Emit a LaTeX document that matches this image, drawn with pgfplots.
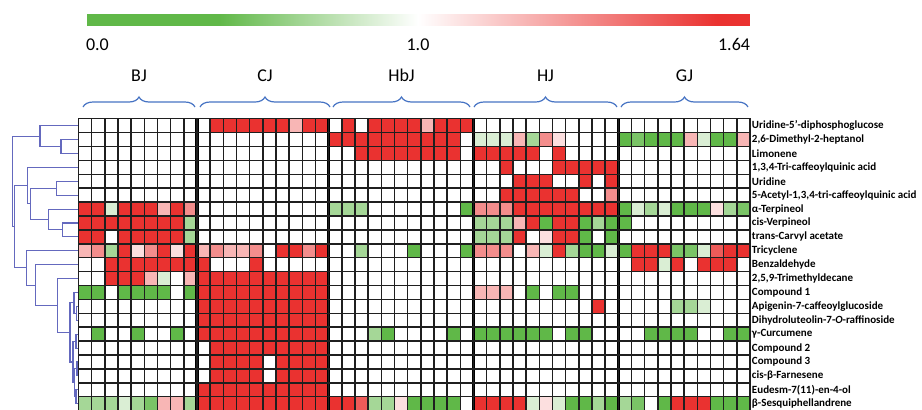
\documentclass[border=0pt]{standalone}
\usepackage{fontspec}
\setmainfont{Carlito}
\usepackage{pgfplots}
\pgfplotsset{compat=1.18}
\usetikzlibrary{decorations.pathreplacing,calc}
\definecolor{dendro}{RGB}{100,105,190}
\definecolor{bracecol}{RGB}{70,115,195}
\tikzset{dl/.style={dendro, line width=0.55pt}}
\begin{document}
\begin{tikzpicture}
\useasboundingbox (0pt,0pt) rectangle (461pt,-204.5pt);

% ---------- dendrogram ----------
\begin{axis}[at={(0pt,-59.35pt)}, anchor=north west, scale only axis,
  width=39.25pt, height=145.95pt, xmin=0, xmax=78.5, ymin=-0.5, ymax=20.5,
  y dir=reverse, hide axis, clip=false]
\addplot[dl] coordinates {(78.5,1) (61,1) (61,2) (78.5,2)};
\addplot[dl] coordinates {(78.5,0) (40,0) (40,1.5) (61,1.5)};
\addplot[dl] coordinates {(78.5,7) (62.7,7) (62.7,8) (78.5,8)};
\addplot[dl] coordinates {(78.5,6) (48.3,6) (48.3,7.5) (62.7,7.5)};
\addplot[dl] coordinates {(78.5,4) (56.7,4) (56.7,5) (78.5,5)};
\addplot[dl] coordinates {(56.7,4.5) (30.7,4.5) (30.7,6.75) (48.3,6.75)};
\addplot[dl] coordinates {(78.5,3) (27.7,3) (27.7,5.625) (30.7,5.625)};
\addplot[dl] coordinates {(78.5,13) (76.5,13) (76.5,14) (78.5,14)};
\addplot[dl] coordinates {(78.5,12) (74,12) (74,13.5) (76.5,13.5)};
\addplot[dl] coordinates {(78.5,15) (76,15) (76,16) (78.5,16)};
\addplot[dl] coordinates {(78.5,17) (77,17) (77,18) (78.5,18)};
\addplot[dl] coordinates {(78.5,19) (76,19) (76,20) (78.5,20)};
\addplot[dl] coordinates {(77,17.5) (74.5,17.5) (74.5,19.5) (76,19.5)};
\addplot[dl] coordinates {(76,15.5) (73,15.5) (73,18.5) (74.5,18.5)};
\addplot[dl] coordinates {(74,12.75) (70,12.75) (70,17) (73,17)};
\addplot[dl] coordinates {(78.5,11) (57.3,11) (57.3,14.875) (70,14.875)};
\addplot[dl] coordinates {(78.5,10) (35.7,10) (35.7,12.94) (57.3,12.94)};
\addplot[dl] coordinates {(78.5,9) (26.7,9) (26.7,11.47) (35.7,11.47)};
\addplot[dl] coordinates {(27.7,4.3125) (14.3,4.3125) (14.3,10.235) (26.7,10.235)};
\addplot[dl] coordinates {(40,0.75) (12.3,0.75) (12.3,7.27) (14.3,7.27)};
\end{axis}

% ---------- heatmap ----------
\begin{axis}[at={(39.25pt,-59.35pt)}, anchor=north west, scale only axis,
  width=335.75pt, height=145.95pt,
  xmin=-0.5, xmax=50.5, ymin=-0.5, ymax=20.5, y dir=reverse, enlargelimits=false,
  colormap={gwr}{rgb255(0pt)=(96,184,72) rgb255(20pt)=(96,184,72) rgb255(50pt)=(255,255,255) rgb255(95pt)=(234,50,48) rgb255(100pt)=(234,50,48)},
  point meta min=0, point meta max=100,
  xtick={-0.5,0.5,...,50.5}, xticklabels={}, xmajorgrids,
  ytick={0,...,20}, minor ytick={-0.5,0.5,...,20.5}, yminorgrids,
  major grid style={black!88, line width=0.75pt},
  minor grid style={black!88, line width=0.75pt},
  major tick length=0pt, minor tick length=0pt,
  yticklabel pos=right,
  yticklabel style={anchor=west, inner sep=0.8pt, font=\bfseries\fontsize{5.5}{6}\selectfont},
  yticklabels={{Uridine-5'-diphosphoglucose},{2,6-Dimethyl-2-heptanol},{Limonene},{1,3,4-Tri-caffeoylquinic acid},{Uridine},{5-Acetyl-1,3,4-tri-caffeoylquinic acid},{α-Terpineol},{cis-Verpineol},{trans-Carvyl acetate},{Tricyclene},{Benzaldehyde},{2,5,9-Trimethyldecane},{Compound 1},{Apigenin-7-caffeoylglucoside},{Dihydroluteolin-7-\textit{O}-raffinoside},{γ-Curcumene},{Compound 2},{Compound 3},{cis-β-Farnesene},{Eudesm-7(11)-en-4-ol},{β-Sesquiphellandrene}},
  axis line style={black!88, line width=0.75pt}, axis on top,
  colorbar horizontal,
  colorbar style={at={($(parent axis.north west)+(3.75pt,55.1pt)$)}, anchor=south west,
    scale only axis, width=332pt, height=5.5pt, axis line style={draw=none},
    xtick={0,50,100}, xticklabels={\makebox[0pt][l]{0.0},\makebox[0pt]{1.0},\makebox[0pt][r]{1.64}},
    major tick length=0pt, xticklabel style={font=\fontsize{9}{10}\selectfont, yshift=-3pt}},
]
\addplot[matrix plot*, mesh/cols=51, point meta=explicit]
 table[header=false, row sep=\\, x expr={\coordindex-51*floor((\coordindex+0.5)/51)}, y expr={floor((\coordindex+0.5)/51)}, meta index=0] {
50\\50\\50\\50\\50\\50\\50\\50\\50\\
50\\100\\100\\100\\100\\100\\100\\66\\100\\100\\
50\\100\\50\\100\\100\\100\\100\\66\\100\\100\\100\\
50\\50\\50\\50\\50\\50\\50\\50\\50\\50\\50\\
50\\50\\50\\50\\50\\50\\50\\50\\50\\50\\
50\\50\\50\\50\\50\\50\\50\\50\\50\\
50\\50\\50\\50\\50\\50\\50\\50\\50\\50\\
100\\100\\100\\100\\100\\100\\100\\100\\100\\100\\50\\
43\\43\\43\\66\\33\\75\\57\\50\\50\\50\\50\\
5\\25\\5\\5\\5\\66\\43\\5\\5\\66\\
50\\50\\50\\50\\50\\50\\50\\50\\50\\
50\\50\\50\\50\\50\\50\\50\\50\\50\\50\\
50\\50\\100\\100\\100\\100\\100\\100\\100\\100\\50\\
100\\100\\100\\100\\100\\50\\100\\50\\50\\50\\50\\
50\\50\\50\\50\\50\\50\\50\\50\\50\\50\\
50\\50\\50\\50\\50\\50\\50\\50\\50\\
50\\50\\50\\50\\50\\50\\50\\50\\50\\50\\
50\\50\\50\\50\\50\\50\\50\\50\\50\\50\\50\\
50\\50\\100\\50\\50\\50\\100\\100\\100\\100\\100\\
50\\50\\50\\50\\50\\50\\50\\50\\50\\50\\
50\\50\\50\\50\\50\\50\\50\\50\\50\\
50\\50\\50\\50\\50\\50\\50\\50\\50\\50\\
50\\50\\50\\50\\50\\50\\50\\50\\50\\50\\50\\
50\\50\\50\\100\\100\\100\\50\\50\\100\\50\\100\\
50\\50\\50\\50\\50\\50\\50\\50\\50\\50\\
50\\50\\50\\50\\50\\50\\50\\50\\50\\
50\\50\\50\\50\\50\\50\\50\\50\\50\\50\\
50\\50\\50\\50\\50\\50\\50\\50\\50\\50\\50\\
50\\50\\100\\100\\100\\100\\100\\100\\50\\50\\75\\
50\\50\\50\\50\\50\\50\\50\\50\\50\\50\\
100\\100\\43\\100\\100\\100\\66\\100\\75\\
50\\50\\50\\50\\50\\50\\50\\50\\50\\50\\
33\\33\\33\\50\\50\\50\\50\\50\\50\\50\\5\\
75\\75\\75\\100\\100\\100\\100\\100\\100\\100\\100\\
5\\43\\33\\43\\5\\5\\5\\57\\33\\25\\
100\\100\\100\\100\\100\\100\\100\\100\\33\\
50\\50\\50\\50\\50\\50\\50\\50\\50\\50\\
50\\50\\50\\50\\50\\50\\50\\50\\50\\50\\50\\
33\\33\\33\\66\\100\\5\\100\\100\\5\\33\\5\\
5\\50\\50\\50\\50\\50\\50\\50\\50\\50\\
100\\100\\50\\100\\100\\100\\100\\100\\33\\
50\\50\\50\\50\\50\\50\\50\\50\\50\\50\\
50\\50\\50\\50\\50\\50\\50\\50\\50\\50\\50\\
33\\33\\33\\100\\50\\57\\100\\100\\5\\50\\5\\
50\\50\\50\\50\\50\\50\\50\\50\\50\\50\\
66\\75\\33\\100\\57\\75\\100\\57\\100\\
66\\75\\66\\66\\75\\50\\100\\100\\75\\100\\
50\\50\\33\\50\\50\\50\\5\\50\\50\\50\\5\\
75\\75\\75\\50\\66\\43\\100\\33\\5\\5\\43\\
5\\100\\100\\100\\25\\25\\43\\86\\100\\100\\
50\\50\\100\\100\\100\\100\\100\\100\\100\\
100\\50\\50\\50\\100\\50\\50\\50\\50\\50\\
50\\50\\50\\50\\50\\50\\50\\50\\50\\50\\50\\
50\\50\\50\\50\\50\\50\\50\\50\\50\\50\\50\\
50\\100\\100\\43\\100\\50\\100\\100\\100\\50\\
50\\50\\100\\100\\100\\66\\43\\50\\66\\
100\\100\\100\\100\\100\\100\\100\\100\\100\\100\\
50\\50\\50\\50\\50\\50\\50\\50\\50\\50\\50\\
50\\50\\50\\50\\50\\50\\50\\50\\50\\50\\50\\
50\\50\\50\\50\\50\\50\\50\\50\\50\\50\\
5\\5\\50\\5\\5\\5\\5\\50\\5\\
100\\100\\100\\100\\100\\100\\100\\100\\100\\100\\
50\\50\\50\\50\\50\\50\\50\\50\\50\\50\\50\\
66\\66\\66\\50\\5\\50\\5\\5\\50\\50\\50\\
50\\50\\50\\50\\50\\50\\50\\50\\50\\50\\
50\\50\\50\\50\\50\\50\\50\\50\\50\\
100\\100\\100\\100\\100\\100\\100\\100\\100\\100\\
50\\50\\50\\50\\50\\50\\50\\50\\50\\50\\50\\
50\\50\\50\\50\\50\\50\\50\\50\\50\\100\\50\\
50\\50\\50\\50\\33\\33\\43\\50\\50\\50\\
50\\50\\50\\50\\50\\50\\50\\50\\50\\
100\\100\\100\\100\\100\\100\\100\\100\\100\\100\\
50\\50\\50\\50\\50\\50\\50\\50\\50\\50\\50\\
50\\50\\50\\50\\50\\50\\50\\50\\50\\50\\50\\
50\\50\\50\\50\\50\\50\\50\\50\\50\\50\\
50\\5\\50\\50\\5\\50\\50\\5\\50\\
100\\100\\100\\100\\100\\100\\100\\100\\100\\100\\
50\\50\\50\\33\\5\\50\\50\\50\\50\\5\\50\\
5\\5\\5\\5\\5\\5\\50\\5\\5\\50\\50\\
50\\50\\5\\5\\5\\5\\50\\50\\5\\5\\
50\\50\\50\\50\\50\\50\\50\\50\\50\\
50\\100\\100\\100\\100\\100\\100\\100\\100\\100\\
50\\50\\50\\50\\50\\50\\50\\50\\50\\50\\50\\
50\\50\\50\\50\\50\\50\\50\\50\\50\\50\\50\\
50\\50\\50\\50\\50\\50\\50\\50\\50\\50\\
50\\50\\50\\50\\50\\50\\50\\50\\50\\
50\\100\\100\\100\\100\\50\\100\\100\\100\\100\\
50\\50\\50\\50\\50\\50\\50\\50\\50\\50\\50\\
50\\50\\50\\50\\50\\50\\50\\50\\50\\50\\50\\
50\\50\\50\\50\\50\\50\\50\\50\\50\\50\\
50\\50\\50\\50\\50\\50\\50\\50\\50\\
50\\100\\100\\100\\100\\50\\100\\100\\100\\100\\
50\\50\\50\\50\\50\\50\\50\\50\\50\\50\\50\\
50\\50\\50\\50\\50\\50\\50\\50\\50\\50\\50\\
50\\50\\50\\50\\50\\50\\50\\50\\50\\50\\
50\\50\\50\\50\\50\\50\\50\\50\\50\\
100\\100\\100\\100\\100\\100\\100\\100\\100\\100\\
50\\50\\50\\50\\50\\50\\50\\50\\50\\50\\50\\
50\\50\\50\\50\\50\\50\\50\\50\\50\\50\\50\\
50\\50\\50\\50\\50\\50\\50\\50\\50\\50\\
33\\33\\33\\43\\33\\25\\66\\66\\33\\
100\\100\\100\\100\\100\\100\\100\\100\\100\\100\\
100\\100\\86\\33\\33\\57\\5\\5\\5\\5\\50\\
100\\100\\100\\100\\43\\57\\43\\5\\5\\33\\5\\
33\\25\\50\\5\\100\\100\\100\\5\\5\\5\\
};
\addplot[black, line width=1.8pt] coordinates {(8.5,-0.5) (8.5,20.5)};
\addplot[black, line width=1.8pt] coordinates {(18.5,-0.5) (18.5,20.5)};
\addplot[black, line width=1.8pt] coordinates {(29.5,-0.5) (29.5,20.5)};
\addplot[black, line width=1.8pt] coordinates {(40.5,-0.5) (40.5,20.5)};
\end{axis}

% ---------- group braces and labels ----------
\begin{scope}[bracecol, line width=0.6pt, decoration={brace, amplitude=5pt}]
\draw[decorate] (41.5pt,-53.5pt) -- (97.5pt,-53.5pt);
\draw[decorate] (100pt,-53.5pt) -- (165pt,-53.5pt);
\draw[decorate] (166.5pt,-53.5pt) -- (235pt,-53.5pt);
\draw[decorate] (237pt,-53.5pt) -- (308.5pt,-53.5pt);
\draw[decorate] (310.5pt,-53.5pt) -- (374pt,-53.5pt);
\end{scope}
\begin{scope}[every node/.style={font=\fontsize{9}{10}\selectfont, inner sep=0pt}]
\node at (69.5pt,-37.8pt) {BJ};
\node at (132.5pt,-37.8pt) {CJ};
\node at (200.75pt,-37.8pt) {HbJ};
\node at (272.75pt,-37.8pt) {HJ};
\node at (342.25pt,-37.8pt) {GJ};
\end{scope}
\end{tikzpicture}
\end{document}
